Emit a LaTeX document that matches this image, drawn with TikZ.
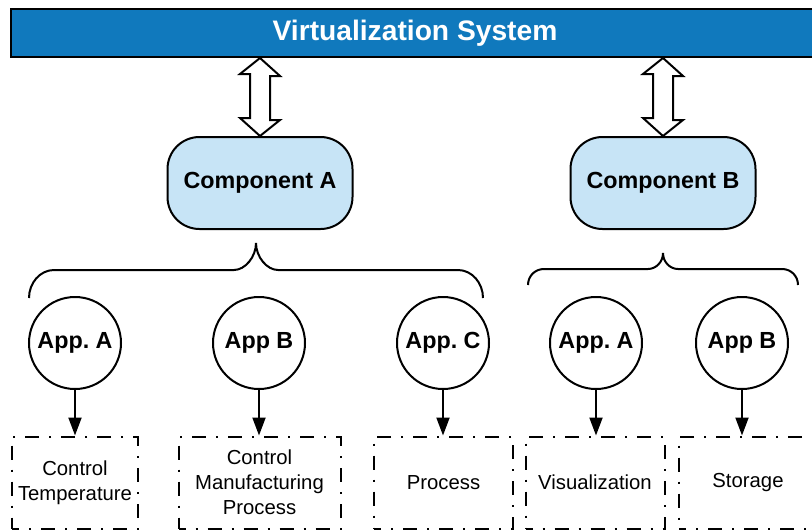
\documentclass[tikz,border=0pt]{standalone}
\usepackage{fontspec}
\setmainfont{Liberation Sans}
\usetikzlibrary{arrows.meta}
\definecolor{barblue}{HTML}{1079BD}
\definecolor{compblue}{HTML}{C7E4F6}
\frenchspacing
\tikzset{
  bar/.style={draw=black, line width=2pt, fill=barblue, minimum width=808pt, minimum height=48pt, inner sep=0pt,
    text=white, font=\fontsize{28.2}{33}\selectfont\bfseries},
  comp/.style={draw=black, line width=2pt, fill=compblue, rounded corners=32pt, minimum width=185pt, minimum height=92pt,
    inner sep=0pt, font=\fontsize{23.3}{28}\selectfont\bfseries},
  app/.style={draw=black, line width=2pt, circle, minimum size=92pt, inner sep=0pt, font=\fontsize{23.3}{28}\selectfont\bfseries},
  task/.style={draw=black, line width=2pt, dash pattern=on 14pt off 10pt on 2pt off 10pt, dash phase=7pt,
    minimum height=92pt, inner sep=0pt, align=center, font=\fontsize{20.3}{25}\selectfont},
  dblarrow/.style={draw=black, line width=2pt, fill=white, line join=miter},
  brace/.style={draw=black, line width=2pt},
  arr/.style={draw=black, line width=2pt, -{Triangle[length=18pt,width=13pt]}},
}
\begin{document}
\begin{tikzpicture}[x=1pt,y=-1pt]
\useasboundingbox (0,0) rectangle (812,531);
\node[bar] (sys) at (415,33) {Virtualization System};
\node[comp] (ca) at (260,183) {Component A};
\node[comp] (cb) at (663,183) {Component B};
% double arrows
\draw[dblarrow] (ca.north |- sys.south) -- ++(20,18) -- ++(-10,0) -- ++(0,44) -- ++(10,0) -- (ca.north)
  -- ++(-20,-18) -- ++(10,0) -- ++(0,-44) -- ++(-10,0) -- cycle;
\draw[dblarrow] (cb.north |- sys.south) -- ++(20,18) -- ++(-10,0) -- ++(0,44) -- ++(10,0) -- (cb.north)
  -- ++(-20,-18) -- ++(10,0) -- ++(0,-44) -- ++(-10,0) -- cycle;
% braces
\draw[brace] (29,298) .. controls (29,283) and (40,270) .. (54,270) -- (234,270)
  .. controls (245,270) and (256,257) .. (256,243)
  .. controls (256,257) and (267,270) .. (278,270) -- (458,270)
  .. controls (472,270) and (483,283) .. (483,298);
\draw[brace] (528,285) .. controls (528,276) and (535,269) .. (544,269) -- (648,269)
  .. controls (656,269) and (663,262) .. (663,253)
  .. controls (663,262) and (670,269) .. (678,269) -- (782,269)
  .. controls (791,269) and (798,276) .. (798,285);
% apps
\node[app] (a1) at (75,343) {App. A};
\node[app] (a2) at (259,343) {App B};
\node[app] (a3) at (443,343) {App. C};
\node[app] (a4) at (596,343) {App. A};
\node[app] (a5) at (742,343) {App B};
% tasks
\node[task, minimum width=126pt] (t1) at (75,482.5) {Control\\Temperature};
\node[task, minimum width=162pt] (t2) at (259.5,482.5) {Control\\Manufacturing\\Process};
\node[task, minimum width=139pt] (t3) at (443.5,482.5) {Process};
\node[task, minimum width=139pt] (t4) at (595,482.5) {Visualization};
\node[task, minimum width=138pt] (t5) at (748,482.5) {Storage};
% arrows
\draw[arr] (a1.south) -- (a1.south |- t1.north);
\draw[arr] (a2.south) -- (a2.south |- t2.north);
\draw[arr] (a3.south) -- (a3.south |- t3.north);
\draw[arr] (a4.south) -- (a4.south |- t4.north);
\draw[arr] (a5.south) -- (a5.south |- t5.north);
\end{tikzpicture}
\end{document}
